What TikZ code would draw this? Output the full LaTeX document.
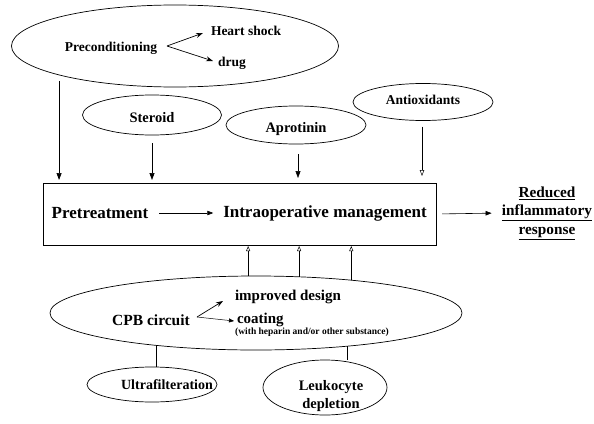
\documentclass[tikz,border=0pt]{standalone}
\usepackage{fontspec}
\setmainfont{Liberation Serif}
\usetikzlibrary{arrows.meta,shapes.geometric}
\begin{document}
\begin{tikzpicture}[x=1pt,y=-1pt,line width=0.7pt,
  ell/.style={draw,ellipse,inner sep=0pt,outer sep=0pt},
  tx/.style={inner sep=0pt,outer sep=0pt,font=\bfseries\fontsize{#1}{#1}\selectfont},
  dn/.style={-{Triangle[length=7pt,width=5pt]}},
  dnopen/.style={-{Triangle[open,length=6pt,width=4.5pt]}},
  upopen/.style={-{Triangle[open,length=5pt,width=4pt]},line width=0.5pt},
  sharp/.style={-{Stealth[length=7pt,width=5pt]}},
  small/.style={-{Triangle[length=6pt,width=4.5pt]},line width=0.6pt}]
\useasboundingbox (0,0) rectangle (594,423);

% Preconditioning group
\node[ell,minimum width=327pt,minimum height=82pt] (pre) at (175,46) {};
\node[tx=13.5] (prec) at (111,48) {Preconditioning};
\node[tx=13.5,anchor=west] (heart) at (211,31) {Heart shock};
\node[tx=13.5,anchor=west] (drug) at (218,63) {drug};
\coordinate (f1) at (167,46);
\draw[sharp] (f1) -- ([xshift=-8pt,yshift=-2pt]heart.west);
\draw[sharp] (f1) -- ([xshift=-5pt,yshift=2pt]drug.west);

% other pretreatment ellipses
\node[ell,minimum width=139pt,minimum height=40pt] (ster) at (152,115) {};
\node[tx=14.5] (stert) at (152,118) {Steroid};
\node[ell,minimum width=140pt,minimum height=38pt] (apr) at (296,125) {};
\node[tx=14.5] (aprt) at (296,129) {Aprotinin};
\node[ell,minimum width=140pt,minimum height=37pt] (anti) at (423,102) {};
\node[tx=13.5] (antit) at (423,100) {Antioxidants};

% main box
\node[draw,minimum width=393pt,minimum height=62pt,inner sep=0pt,outer sep=0pt] (box) at (239.5,214) {};
\node[tx=17] (pret) at (100,213) {Pretreatment};
\node[tx=17] (intra) at (325,213) {Intraoperative management};
\draw[small,shorten <=11pt,shorten >=10pt] (pret.east) -- (intra.west);

\node[align=center,inner sep=0pt,font=\bfseries\fontsize{15.3}{18.5}\selectfont] (red) at (547,213)
  {\underline{Reduced}\\\underline{inflammatory}\\\underline{response}};
\draw[small,shorten <=6pt,shorten >=10pt] (box.east) -- (red.west);

% down arrows
\draw[dn,shorten >=3pt] ([yshift=-6pt]pre.194.9) -- (pre.194.9 |- box.north);
\draw[dn,shorten >=3pt] ([yshift=-8pt]ster.south) -- (ster.south |- box.north);
\draw[dn,line width=0.5pt,shorten >=5pt] ([xshift=2pt,yshift=-10pt]apr.south) -- ([xshift=2pt]apr.south |- box.north);
\draw[dnopen,line width=0.5pt,shorten >=7pt] ([xshift=-1pt,yshift=-6pt]anti.south) -- ([xshift=-1pt]anti.south |- box.north);

% CPB circuit
\node[ell,minimum width=412pt,minimum height=74pt] (cpb) at (256,313) {};
\node[tx=15.5] (cpbt) at (151,320) {CPB circuit};
\node[tx=15,anchor=west] (imp) at (235,297) {improved design};
\node[tx=15,anchor=west] (coat) at (237,320) {coating};
\node[tx=9.5] (with) at (312,332.5) {(with heparin and/or other substance)};
\coordinate (f2) at (197,317);
\draw[sharp] (f2) -- ([xshift=-12pt,yshift=-4pt]imp.west);
\draw[-{Triangle[length=5pt,width=4pt]},line width=0.5pt] (f2) -- ([xshift=-3pt,yshift=-1pt]coat.west);

\draw[upopen,shorten >=1pt] (cpb.102.2) -- (cpb.102.2 |- box.south);
\draw[upopen,shorten >=1pt] (cpb.40.8) -- (cpb.40.8 |- box.south);
\draw[upopen,shorten >=1pt] (cpb.19.8) -- (cpb.19.8 |- box.south);

% bottom ellipses
\node[ell,minimum width=130pt,minimum height=35pt] (ultra) at (152,384.5) {};
\node[tx=14] (ultrat) at (167,385) {Ultrafilteration};
\node[ell,minimum width=124pt,minimum height=55pt] (leuk) at (325,387.5) {};
\node[align=center,inner sep=0pt,font=\bfseries\fontsize{14.5}{18}\selectfont] (leukt) at (331,396) {Leukocyte\\depletion};
\draw[line width=0.6pt] (cpb.198.8) -- (cpb.198.8 |- ultra.north);
\draw[line width=0.6pt] (cpb.340.7) -- (cpb.340.7 |- leuk.north);
\end{tikzpicture}
\end{document}
